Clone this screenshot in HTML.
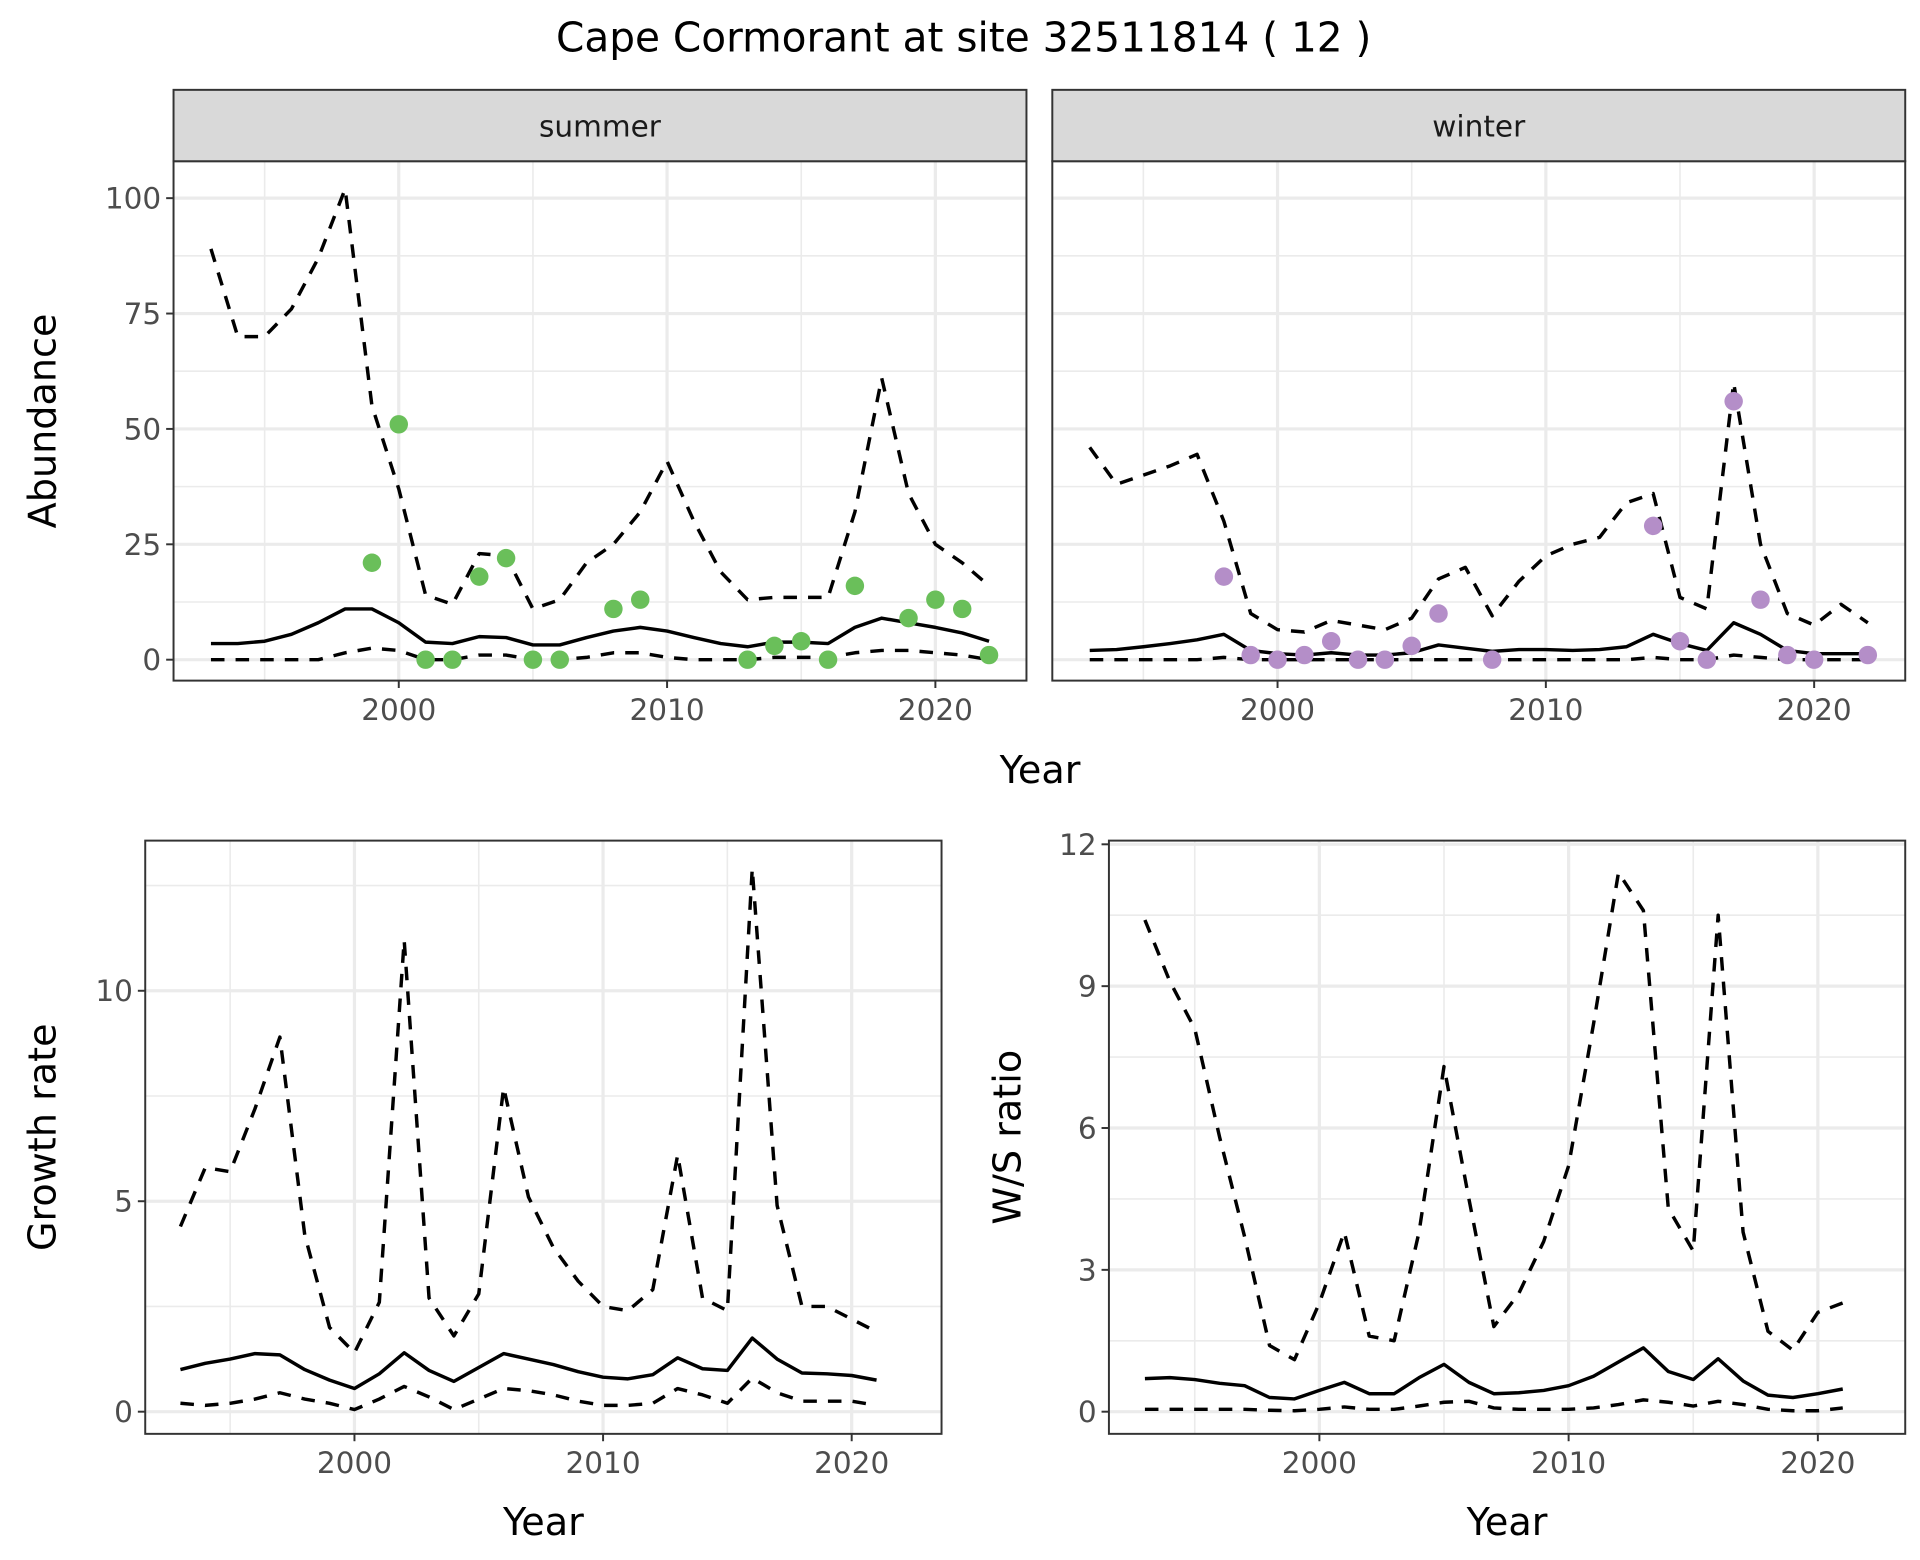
<!DOCTYPE html>
<html><head><meta charset="utf-8"><style>
html,body{margin:0;padding:0;background:#fff;}
svg{display:block;font-family:"DejaVu Sans","Liberation Sans",sans-serif;}
</style></head><body>
<svg id="fig" width="1920" height="1560" viewBox="0 0 1560 1267.5" xmlns="http://www.w3.org/2000/svg">
<text x="783" y="42" font-size="33" text-anchor="middle" fill="#000">Cape Cormorant at site 32511814 ( 12 )</text>
</svg>
<script>
const yearsS = [1993,1994,1995,1996,1997,1998,1999,2000,2001,2002,2003,2004,2005,2006,2007,2008,2009,2010,2011,2012,2013,2014,2015,2016,2017,2018,2019,2020,2021,2022];
const summerMid = [3.5,3.5,4,5.5,8,11,11,8,3.8,3.5,5,4.8,3.2,3.2,4.8,6.2,7,6.2,4.8,3.5,2.8,3.8,3.8,3.5,7,9,8,7,5.8,4];
const summerHi = [89,70,70,76,87,102,55,37,14,12,23,22.5,11,13,21,25,32,43,30,19,13,13.5,13.5,13.5,32,61,36,25,21,16];
const summerLo = [0,0,0,0,0,1.5,2.5,2,0,0,1,1,0,0,0.5,1.5,1.5,0.5,0,0,0,0.5,0.5,0.5,1.5,2,2,1.5,1,0];
const summerPtYears = [1999,2000,2001,2002,2003,2004,2005,2006,2008,2009,2013,2014,2015,2016,2017,2019,2020,2021,2022];
const summerPts = [21,51,0,0,18,22,0,0,11,13,0,3,4,0,16,9,13,11,1];
const winterMid = [2,2.2,2.8,3.5,4.3,5.5,2,1.3,1,1.5,1,1,1.5,3.2,2.5,1.8,2.2,2.2,2,2.2,2.8,5.5,3.5,2,8,5.5,2,1.3,1.3,1.3];
const winterHi = [46,38,40,42,44.5,30,10,6.5,6,8.5,7.5,6.5,9,17.5,20,9.5,17,22.5,25,26.5,34,36,13.5,11,60,25,10,7.5,12,8];
const winterLo = [0,0,0,0,0,0.5,0,0,0,0,0,0,0,0,0,0,0,0,0,0,0,0.5,0,0,1,0.5,0,0,0,0];
const winterPtYears = [1998,1999,2000,2001,2002,2003,2004,2005,2006,2008,2014,2015,2016,2017,2018,2019,2020,2022];
const winterPts = [18,1,0,1,4,0,0,3,10,0,29,4,0,56,13,1,0,1];
const yearsB = [1993,1994,1995,1996,1997,1998,1999,2000,2001,2002,2003,2004,2005,2006,2007,2008,2009,2010,2011,2012,2013,2014,2015,2016,2017,2018,2019,2020,2021];
const growthMid = [1.0,1.15,1.25,1.38,1.35,1.0,0.75,0.55,0.9,1.4,0.98,0.72,1.05,1.38,1.25,1.12,0.95,0.82,0.78,0.88,1.28,1.02,0.98,1.75,1.25,0.92,0.9,0.86,0.75];
const growthHi = [4.4,5.8,5.7,7.2,8.9,4.2,2.0,1.4,2.6,11.2,2.7,1.8,2.8,7.7,5.1,3.9,3.1,2.5,2.4,2.9,6.1,2.7,2.4,12.9,4.9,2.5,2.5,2.2,1.9];
const growthLo = [0.2,0.15,0.2,0.3,0.45,0.3,0.2,0.05,0.3,0.6,0.35,0.05,0.3,0.55,0.5,0.4,0.25,0.15,0.15,0.2,0.55,0.4,0.2,0.8,0.45,0.25,0.25,0.25,0.15];
const wsMid = [0.7,0.72,0.68,0.6,0.55,0.3,0.27,0.45,0.62,0.38,0.38,0.72,1.0,0.62,0.38,0.4,0.45,0.55,0.75,1.05,1.35,0.85,0.68,1.12,0.65,0.35,0.3,0.38,0.48];
const wsHi = [10.4,9.1,8.1,5.8,3.7,1.4,1.1,2.3,3.8,1.6,1.5,3.8,7.3,4.5,1.8,2.5,3.6,5.2,8.2,11.4,10.6,4.3,3.4,10.5,3.8,1.7,1.3,2.1,2.3];
const wsLo = [0.05,0.05,0.05,0.05,0.05,0.03,0.02,0.05,0.1,0.05,0.05,0.12,0.2,0.22,0.08,0.05,0.05,0.05,0.08,0.15,0.25,0.2,0.12,0.22,0.15,0.05,0.02,0.02,0.08];
const xTicks = [2000,2010,2020];
const xMinor = [1995,2005,2015];
const abTicks = [0,25,50,75,100];
const abMinor = [12.5,37.5,62.5,87.5];
const grTicks = [0,5,10];
const grMinor = [2.5,7.5,12.5];
const wsTicks = [0,3,6,9,12];
const wsMinor = [1.5,4.5,7.5,10.5];

const NS = 'http://www.w3.org/2000/svg';
const svg = document.getElementById('fig');
function el(tag, attrs, parent){const e=document.createElementNS(NS,tag);for(const k in attrs)e.setAttribute(k,attrs[k]);(parent||svg).appendChild(e);return e;}
function lin(d0,d1,r0,r1){return v=>r0+(v-d0)*(r1-r0)/(d1-d0);}

function panel(o){
  const g=el('g',{});
  
  
  const X=lin(2000,2020,o.x2000,o.x2020), Y=lin(0,o.yRefV,o.y0,o.yRef);
  el('rect',{x:o.l,y:o.t,width:o.r-o.l,height:o.b-o.t,fill:'#fff'},g);
  o.yMinor.forEach(v=>el('line',{x1:o.l,x2:o.r,y1:Y(v),y2:Y(v),stroke:'#ebebeb','stroke-width':1.3},g));
  xMinor.forEach(v=>el('line',{x1:X(v),x2:X(v),y1:o.t,y2:o.b,stroke:'#ebebeb','stroke-width':1.3},g));
  o.yTicks.forEach(v=>{const gl=el('line',{x1:o.l,x2:o.r,y1:Y(v),y2:Y(v),stroke:'#ebebeb','stroke-width':2.6},g);});
  xTicks.forEach(v=>el('line',{x1:X(v),x2:X(v),y1:o.t,y2:o.b,stroke:'#ebebeb','stroke-width':2.6},g));
  o.series.forEach(s=>{
    const pts=s.vals.map((v,i)=>X(s.years[i]).toFixed(2)+','+Y(v).toFixed(2)).join(' ');
    const p=el('polyline',{points:pts,fill:'none',stroke:'#000','stroke-width':2.8,'stroke-linejoin':'round'},g);
    if(s.dash)p.setAttribute('stroke-dasharray','11,9');
    
    
  });
  if(o.points){o.points.vals.forEach((v,i)=>{
    const c=el('circle',{cx:X(o.points.years[i]),cy:Y(v),r:7.5,fill:o.points.color},g);
    
    
  });}
  el('rect',{x:o.l,y:o.t,width:o.r-o.l,height:o.b-o.t,fill:'none',stroke:'#333','stroke-width':1.6},g);
  if(o.strip){
    const sr=el('rect',{x:o.l,y:o.t-58,width:o.r-o.l,height:58,fill:'#d9d9d9',stroke:'#333','stroke-width':1.6},g);
    
    
    const st=el('text',{x:(o.l+o.r)/2,y:o.t-20,'font-size':24,'text-anchor':'middle',fill:'#1a1a1a'},g);
    st.textContent=o.strip;
    
    
  }
  if(o.yLabels){o.yTicks.forEach(v=>{
    el('line',{x1:o.l-6,x2:o.l,y1:Y(v),y2:Y(v),stroke:'#333','stroke-width':1.6},g);
    const t=el('text',{x:o.l-10,y:Y(v)+8.5,'font-size':24,'text-anchor':'end',fill:'#4d4d4d'},g);
    t.textContent=v;
    
    
  });}
  xTicks.forEach(v=>{
    el('line',{x1:X(v),x2:X(v),y1:o.b,y2:o.b+6,stroke:'#333','stroke-width':1.6},g);
    const t=el('text',{x:X(v),y:o.b+32,'font-size':24,'text-anchor':'middle',fill:'#4d4d4d'},g);
    t.textContent=v;
    
    
  });
  if(o.ytitle){
    const t=el('text',{x:0,y:0,'font-size':31,'text-anchor':'middle',fill:'#000',transform:`translate(${o.ytx},${(o.t+o.b)/2}) rotate(-90)`},g);
    t.textContent=o.ytitle;
    
    
  }
  if(o.xtitle){
    const t=el('text',{x:(o.l+o.r)/2,y:o.b+82,'font-size':31,'text-anchor':'middle',fill:'#000'},g);
    t.textContent='Year';
    
    
  }
}

panel({name:'summer-panel',l:141,r:834,t:131,b:553,x2000:324,x2020:760,y0:536,yRef:161,yRefV:100,yTicks:abTicks,yMinor:abMinor,yLabels:true,strip:'summer',ytitle:'Abundance',ytx:45,
  series:[{years:yearsS,vals:summerHi,dash:true,name:'summer-upper-bound'},{years:yearsS,vals:summerLo,dash:true,name:'summer-lower-bound'},{years:yearsS,vals:summerMid,name:'summer-estimate'}],
  points:{years:summerPtYears,vals:summerPts,color:'#6abf5a'}});
panel({name:'winter-panel',l:855,r:1548,t:131,b:553,x2000:1038,x2020:1474,y0:536,yRef:161,yRefV:100,yTicks:abTicks,yMinor:abMinor,yLabels:false,strip:'winter',
  series:[{years:yearsS,vals:winterHi,dash:true,name:'winter-upper-bound'},{years:yearsS,vals:winterLo,dash:true,name:'winter-lower-bound'},{years:yearsS,vals:winterMid,name:'winter-estimate'}],
  points:{years:winterPtYears,vals:winterPts,color:'#b48ec8'}});
const yt=el('text',{x:845,y:636,'font-size':31,'text-anchor':'middle',fill:'#000'});
yt.textContent='Year';



panel({name:'growth-rate-panel',l:118,r:765,t:683,b:1165,x2000:288,x2020:692,y0:1147,yRef:805,yRefV:10,yTicks:grTicks,yMinor:grMinor,yLabels:true,ytitle:'Growth rate',ytx:45,xtitle:true,
  series:[{years:yearsB,vals:growthHi,dash:true,name:'growth-upper-bound'},{years:yearsB,vals:growthLo,dash:true,name:'growth-lower-bound'},{years:yearsB,vals:growthMid,name:'growth-estimate'}]});
panel({name:'ws-ratio-panel',l:901,r:1548,t:683,b:1165,x2000:1072,x2020:1477,y0:1147,yRef:686,yRefV:12,yTicks:wsTicks,yMinor:wsMinor,yLabels:true,ytitle:'W/S ratio',ytx:829,xtitle:true,
  series:[{years:yearsB,vals:wsHi,dash:true,name:'ws-upper-bound'},{years:yearsB,vals:wsLo,dash:true,name:'ws-lower-bound'},{years:yearsB,vals:wsMid,name:'ws-estimate'}]});
</script>
</body></html>
